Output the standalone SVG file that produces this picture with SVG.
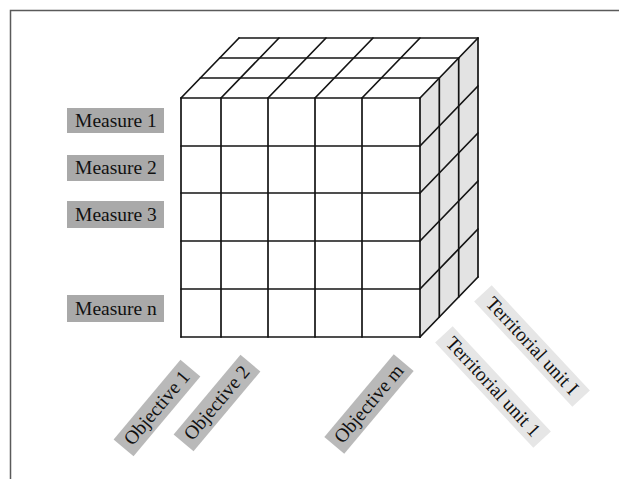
<svg xmlns="http://www.w3.org/2000/svg" width="619" height="479" viewBox="0 0 619 479">
<style>
.ln{stroke:#141414;stroke-width:1.7;fill:none;stroke-linecap:round}
.lbl{font-family:"Liberation Serif","Times New Roman",serif;font-size:19.5px;fill:#111111}
.mbox{fill:#a9a9a9}
.obox{fill:#b9b9b9}
.tbox{fill:#e6e6e6}
</style>
<rect x="0" y="0" width="619" height="479" fill="#ffffff"/>
<path d="M10.5 479 V10.5 H619" fill="none" stroke="#5a5a5a" stroke-width="1.5"/>

<g id="cube">
  <polygon points="181,98 420,98 478,38 239,38" fill="#ffffff"/>
  <polygon points="420,98 478,38 478,277 420,337" fill="#e3e3e3"/>
  <rect x="181" y="98" width="239" height="239" fill="#ffffff"/>
  <g class="ln">
    <line x1="181" y1="98" x2="420" y2="98"/>
    <line x1="181" y1="146" x2="420" y2="146"/>
    <line x1="181" y1="193" x2="420" y2="193"/>
    <line x1="181" y1="241" x2="420" y2="241"/>
    <line x1="181" y1="289" x2="420" y2="289"/>
    <line x1="181" y1="337" x2="420" y2="337"/>
    <line x1="181" y1="98" x2="181" y2="337"/>
    <line x1="221" y1="98" x2="221" y2="337"/>
    <line x1="268" y1="98" x2="268" y2="337"/>
    <line x1="315" y1="98" x2="315" y2="337"/>
    <line x1="362" y1="98" x2="362" y2="337"/>
    <line x1="420" y1="98" x2="420" y2="337"/>
    <line x1="200.3" y1="78" x2="439.3" y2="78"/>
    <line x1="219.7" y1="58" x2="458.7" y2="58"/>
    <line x1="239" y1="38" x2="478" y2="38"/>
    <line x1="181" y1="98" x2="239" y2="38"/>
    <line x1="221" y1="98" x2="279" y2="38"/>
    <line x1="268" y1="98" x2="326" y2="38"/>
    <line x1="315" y1="98" x2="373" y2="38"/>
    <line x1="362" y1="98" x2="420" y2="38"/>
    <line x1="420" y1="98" x2="478" y2="38"/>
    <line x1="439.3" y1="78" x2="439.3" y2="317"/>
    <line x1="458.7" y1="58" x2="458.7" y2="297"/>
    <line x1="478" y1="38" x2="478" y2="277"/>
    <line x1="420" y1="146" x2="478" y2="86"/>
    <line x1="420" y1="193" x2="478" y2="133"/>
    <line x1="420" y1="241" x2="478" y2="181"/>
    <line x1="420" y1="289" x2="478" y2="229"/>
    <line x1="420" y1="337" x2="478" y2="277"/>
  </g>
</g>

<g id="measure1"><rect class="mbox" x="67" y="108" width="97" height="25"/><text class="lbl" x="116" y="127" text-anchor="middle">Measure 1</text></g>
<g id="measure2"><rect class="mbox" x="67" y="155" width="97" height="26"/><text class="lbl" x="116" y="174" text-anchor="middle">Measure 2</text></g>
<g id="measure3"><rect class="mbox" x="67" y="201" width="97" height="27"/><text class="lbl" x="116" y="221" text-anchor="middle">Measure 3</text></g>
<g id="measuren"><rect class="mbox" x="67" y="295" width="97" height="27"/><text class="lbl" x="116" y="315" text-anchor="middle">Measure n</text></g>

<g id="objective1" transform="translate(157,408) rotate(-50)"><rect class="obox" x="-52" y="-13" width="104" height="26"/><text class="lbl" x="0" y="6" text-anchor="middle">Objective 1</text></g>
<g id="objective2" transform="translate(217,403) rotate(-50)"><rect class="obox" x="-52" y="-13" width="104" height="26"/><text class="lbl" x="0" y="6" text-anchor="middle">Objective 2</text></g>
<g id="objectivem" transform="translate(369,404) rotate(-50)"><rect class="obox" x="-54" y="-13" width="108" height="26"/><text class="lbl" x="0" y="6" text-anchor="middle">Objective m</text></g>

<g id="territorialI" transform="translate(532,346) rotate(47)"><rect class="tbox" x="-72" y="-12" width="144" height="24"/><text class="lbl" x="0" y="6" text-anchor="middle">Territorial unit I</text></g>
<g id="territorial1" transform="translate(493,387) rotate(47)"><rect class="tbox" x="-72" y="-12" width="144" height="24"/><text class="lbl" x="0" y="6" text-anchor="middle">Territorial unit 1</text></g>
</svg>
